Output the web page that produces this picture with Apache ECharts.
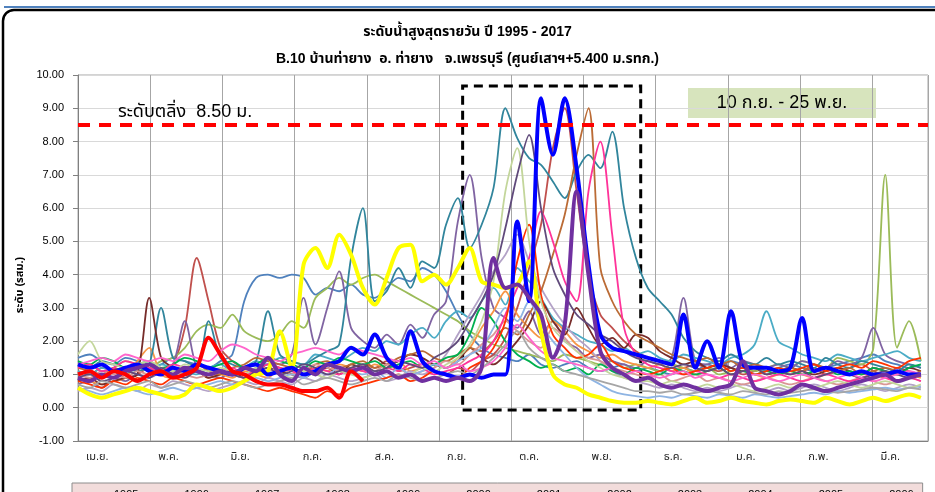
<!DOCTYPE html>
<html>
<head>
<meta charset="utf-8">
<title>ระดับน้ำสูงสุดรายวัน ปี 1995 - 2017</title>
<script src="https://cdn.jsdelivr.net/npm/echarts@6/dist/echarts.min.js"></script>
<style>
html, body { margin: 0; padding: 0; background: #fff; }
#chart { width: 935px; height: 492px; }
</style>
</head>
<body>
<div id="chart"></div>
<script>
// day number counted from 1 Apr, one reading every 5 days
const days = [0,5,10,15,20,25,30,35,40,45,50,55,60,65,70,75,80,85,90,95,100,105,110,115,
  120,125,130,135,140,145,150,155,160,165,170,175,180,185,190,195,200,205,210,215,220,225,230,235,
  240,245,250,255,260,265,270,275,280,285,290,295,300,305,310,315,320,325,330,335,340,345,350,355];
const monthLabels = ['เม.ย.','พ.ค.','มิ.ย.','ก.ค.','ส.ค.','ก.ย.','ต.ค.','พ.ย.','ธ.ค.','ม.ค.','ก.พ.','มี.ค.'];
const years = ['1995','1996','1997','1998','1999','2000','2001','2002','2003','2004','2005','2006',
  '2007','2008','2009','2010','2011','2012','2013','2014','2015','2016','2017'];
const bankLevel = 8.5;
const floodWindow = [162, 237];   // 10 ก.ย. - 25 พ.ย.

const l1995 = [1.5,1.6,1.4,1.3,1.5,1.4,1.2,1.3,1.5,1.4,1.3,1.2, 1.4,1.6,3.2,3.9,4.0,3.9,4.0,3.9,3.4,3.6,3.5,3.7,
  3.4,3.3,3.6,3.9,3.8,4.2,4.0,3.5,2.8,2.2,1.8,1.6, 1.5,1.4,1.6,1.3,1.2,1.3,1.4,1.2,1.1,1.2,1.3,1.1,
  1.2,1.1,1.0,1.2,1.1,1.3,1.2,1.4,1.3,1.2,1.1,1.2, 1.3,1.2,1.1,1.2,1.3,1.4,1.5,1.6,1.4,1.3,1.2,1.3];
const l1996 = [1.1,1.0,1.2,1.1,0.9,1.0,1.2,1.1,1.3,2.4,4.5,3.2, 1.8,1.4,1.2,1.1,1.3,1.2,1.0,1.1,1.2,1.3,1.1,1.2,
  1.3,1.2,1.4,1.1,1.2,1.3,1.1,1.0,1.2,1.1,1.4,1.6, 2.1,3.0,4.2,5.5,7.8,9.0,6.5,4.0,2.8,2.4,2.0,1.7,
  1.5,1.4,1.3,1.2,1.3,1.2,1.1,1.2,1.0,1.1,1.2,1.1, 1.0,1.1,1.2,1.0,1.1,1.2,1.3,1.1,1.0,1.2,1.1,1.0];
const l1997 = [1.2,1.3,1.1,1.2,1.4,1.3,1.2,1.4,1.5,1.8,2.3,2.5, 2.4,2.8,2.3,2.1,2.0,2.2,2.6,2.4,3.3,3.6,3.9,3.7,
  3.9,4.0,3.8,3.6,3.4,3.2,3.0,2.8,2.6,2.3,2.1,1.9, 1.8,1.7,1.6,1.5,1.4,1.6,1.5,1.4,1.3,1.4,1.2,1.3,
  1.2,1.1,1.3,1.2,1.1,1.2,1.0,1.1,1.2,1.1,1.2,1.3, 1.2,1.4,1.3,1.2,1.5,1.4,1.3,1.8,7.0,1.8,2.6,1.4];
const l1998 = [0.7,0.8,0.6,0.9,0.8,1.0,0.9,1.1,1.3,2.6,1.2,1.0, 0.9,1.1,1.0,1.2,1.4,1.3,1.6,3.3,1.9,3.0,4.1,2.4,
  2.0,1.8,2.2,1.9,2.5,2.1,2.8,3.2,5.6,7.0,4.5,3.0, 2.7,2.4,2.9,2.2,2.6,2.0,1.8,1.5,1.6,1.4,1.3,1.2,
  1.4,1.3,1.5,3.3,1.4,1.3,1.5,1.2,1.4,1.3,1.2,1.3, 1.2,1.4,1.3,1.2,1.4,1.3,1.5,2.4,1.6,1.4,1.3,1.2];
const l1999 = [1.1,1.0,1.2,1.1,1.0,1.2,1.1,1.3,1.2,1.1,1.0,1.2, 1.3,1.1,1.2,1.4,1.3,1.5,1.4,1.3,1.6,1.5,1.4,1.6,
  1.8,1.7,2.0,1.9,2.2,2.4,2.1,2.6,2.9,2.7,3.2,3.6, 3.1,4.2,3.8,3.3,2.7,2.4,2.2,2.0,1.9,1.7,1.8,1.6,
  1.7,1.5,1.4,1.6,1.5,1.4,1.3,1.5,1.6,1.9,2.9,2.0, 1.8,1.6,1.5,1.4,1.6,1.5,1.4,1.5,1.6,1.7,1.5,1.4];
const l2000 = [0.9,0.8,0.7,0.8,0.9,1.4,1.8,1.0,0.9,1.0,1.1,0.9, 1.0,0.9,1.1,1.0,0.9,1.2,1.1,1.0,1.2,1.1,1.3,1.2,
  1.1,1.3,1.2,1.4,1.1,1.2,1.3,1.2,1.5,1.8,2.4,2.9, 3.5,2.8,2.4,2.1,2.6,2.3,1.9,1.7,1.5,1.6,1.4,1.3,
  1.2,1.3,1.1,1.2,1.0,1.1,1.2,1.0,1.1,1.0,0.9,1.0, 1.1,1.0,0.9,1.0,1.1,1.0,0.9,1.0,0.9,1.1,1.0,0.9];
const l2001 = [1.3,1.2,1.4,1.3,1.2,1.1,1.3,3.0,1.5,1.4,1.2,2.6, 1.5,1.3,1.2,1.4,2.9,1.6,1.4,1.3,1.5,1.7,1.9,4.5,
  6.0,3.2,3.5,4.2,3.6,4.4,4.2,5.5,6.3,4.8,5.5,6.6, 9.0,8.1,7.5,7.3,6.8,6.3,7.1,7.6,7.2,8.3,6.0,4.5,
  3.6,3.2,2.8,2.1,1.7,1.5,1.4,1.6,1.4,1.3,1.5,1.3, 1.4,1.3,1.2,1.5,1.3,1.2,1.4,1.3,1.2,1.1,1.3,1.2];
const l2002 = [0.8,0.9,0.7,0.8,0.9,1.0,3.3,1.5,1.2,1.0,1.1,0.9, 1.0,1.1,0.9,1.0,1.2,1.1,1.0,0.9,1.1,1.2,1.0,1.3,
  1.2,1.5,1.3,1.4,1.6,1.5,1.3,1.2,1.4,1.8,1.5,1.3, 1.6,2.0,2.5,3.2,2.6,2.2,3.0,2.4,1.9,2.1,1.8,2.2,
  2.1,1.7,1.5,1.3,1.4,1.2,1.3,1.2,1.1,1.2,1.0,1.1, 1.2,1.1,1.0,1.1,1.2,1.1,1.0,1.2,1.1,1.0,1.2,1.1];
const l2003 = [0.5,0.6,0.5,0.7,0.6,0.5,0.7,0.6,0.8,0.7,0.6,0.5, 0.6,0.7,0.8,0.7,0.9,0.8,0.7,0.9,0.8,1.0,0.9,0.8,
  0.9,1.0,0.8,0.9,1.1,1.0,1.2,1.6,2.2,2.8,3.4,4.1, 4.6,5.2,4.4,3.6,3.0,2.5,2.1,1.8,1.4,1.1,0.9,0.8,
  0.7,0.6,0.7,0.6,0.5,0.6,0.5,0.6,0.7,0.6,0.5,0.6, 0.5,0.6,0.7,0.6,0.5,0.6,0.7,0.6,0.5,0.6,0.7,0.6];
const l2004 = [1.2,1.1,1.0,1.2,1.1,1.3,1.2,1.0,1.1,1.2,1.3,1.1, 1.0,1.2,1.3,1.5,1.4,1.3,1.2,1.1,1.3,1.4,1.2,1.3,
  1.4,1.2,1.3,1.5,1.6,1.7,1.5,1.4,1.6,1.8,1.7,2.0, 2.4,2.2,2.8,3.5,4.6,5.8,7.6,9.0,4.2,3.2,2.6,2.2,
  2.0,1.8,1.6,1.5,1.4,1.5,1.3,1.4,1.2,1.3,1.2,1.1, 1.2,1.1,1.3,1.2,1.1,1.2,1.0,1.1,1.2,1.1,1.0,1.1];
const l2005 = [1.0,0.9,1.1,1.0,0.9,1.1,1.0,1.2,1.1,1.0,0.9,1.0, 1.1,1.0,0.9,1.0,1.1,1.2,1.0,1.1,1.3,1.2,1.1,1.0,
  1.2,1.1,1.3,1.2,1.0,1.1,1.2,1.4,1.3,1.6,1.9,2.2, 2.6,2.3,2.0,1.8,2.4,2.1,1.7,1.5,1.4,1.2,1.1,1.0,
  0.9,1.0,0.8,0.9,1.0,0.8,0.9,0.8,0.7,0.8,0.9,0.8, 0.7,0.8,0.9,0.8,0.7,0.8,0.9,0.8,0.7,0.8,0.9,0.8];
const l2006 = [0.6,0.4,0.3,0.4,0.5,0.6,0.5,0.4,0.3,0.4,0.7,0.6, 0.5,0.6,0.8,1.0,1.1,2.3,1.2,4.3,4.8,4.2,5.2,4.6,
  3.6,3.1,3.9,4.8,4.9,3.8,4.0,3.7,4.2,4.8,3.8,3.7, 3.6,3.7,4.4,2.3,1.0,0.7,0.6,0.4,0.3,0.2,0.15,0.15,
  0.2,0.15,0.1,0.2,0.3,0.15,0.2,0.3,0.2,0.15,0.1,0.2, 0.25,0.2,0.15,0.3,0.2,0.1,0.2,0.3,0.2,0.3,0.4,0.3];
const l2007 = [1.4,1.3,1.5,1.4,1.2,1.3,1.4,1.2,1.3,1.5,1.4,1.2, 1.3,1.4,1.2,1.3,1.5,1.4,1.3,1.2,1.4,1.3,1.5,1.4,
  1.3,1.4,1.2,1.3,1.4,1.2,1.3,1.5,1.6,2.2,3.0,2.6, 2.0,1.6,1.4,1.2,1.3,1.1,1.2,1.0,1.3,1.1,1.0,1.2,
  1.1,1.0,1.2,1.1,1.0,1.1,1.2,1.0,1.1,1.0,1.1,1.0, 1.1,1.0,1.1,1.2,1.0,1.1,1.0,1.2,1.1,1.0,1.2,1.3];
const l2008 = [1.2,1.3,1.1,1.2,1.4,1.3,1.2,1.1,1.3,1.2,1.1,1.0, 1.1,1.2,1.0,1.1,1.3,1.2,1.1,1.0,1.2,1.1,1.0,1.2,
  1.1,1.0,1.2,1.1,1.3,1.2,1.0,1.1,1.2,1.4,1.6,2.0, 2.8,3.6,4.5,5.9,5.0,3.8,3.2,6.5,8.0,5.2,2.4,1.6,
  1.3,1.2,1.1,1.0,1.1,1.0,0.9,1.0,0.9,0.8,0.9,1.0, 0.9,0.8,0.9,1.0,0.9,0.8,0.9,1.0,0.9,0.8,0.9,0.8];
const l2009 = [0.6,0.5,0.4,0.5,0.6,0.5,0.4,0.5,0.6,0.5,0.6,0.7, 0.8,0.7,0.8,0.9,0.8,0.9,1.0,0.9,1.1,1.0,1.2,1.1,
  1.0,1.1,0.9,1.2,1.0,1.1,1.3,1.2,1.4,1.6,1.8,2.4, 3.0,2.6,3.2,2.5,2.0,1.6,1.2,0.9,0.7,0.5,0.4,0.35,
  0.3,0.35,0.3,0.4,0.35,0.3,0.4,0.35,0.3,0.4,0.35,0.3, 0.35,0.4,0.45,0.4,0.5,0.45,0.5,0.55,0.6,0.55,0.6,0.65];
const l2010 = [0.8,0.7,0.6,0.8,0.7,0.9,0.8,0.7,0.9,0.8,0.7,0.8, 0.9,0.8,0.7,0.6,0.5,0.6,0.5,0.4,0.3,0.5,0.4,0.6,
  0.7,0.8,0.9,1.0,0.8,0.9,1.1,1.0,0.9,1.2,1.4,1.8, 2.6,4.4,5.5,3.4,2.2,1.8,1.5,1.6,1.9,1.4,1.2,1.1,
  1.0,1.1,1.2,1.0,1.1,1.2,1.3,1.1,1.2,1.0,1.1,1.2, 1.1,1.2,1.3,1.1,1.2,1.3,1.2,1.4,1.3,1.2,1.4,1.5];
const l2011 = [1.3,1.2,1.3,1.1,1.2,1.3,1.1,1.0,1.2,1.1,1.3,1.2, 1.1,1.0,1.2,1.3,1.0,1.1,1.2,1.0,1.1,1.3,1.4,1.8,
  1.6,2.2,1.5,1.2,2.3,1.4,1.1,1.0,0.9,1.0,0.9,1.0, 1.0,5.6,3.2,9.3,7.6,9.3,7.2,4.3,2.2,1.8,1.7,1.6,
  1.5,1.4,1.3,2.8,1.2,2.0,1.2,2.9,1.3,1.2,1.2,1.1, 1.2,2.7,1.1,1.2,1.1,1.0,1.1,1.0,1.0,1.1,1.0,1.0];
const l2012 = [1.6,2.0,1.4,1.3,1.2,1.3,1.4,1.2,1.1,1.3,1.2,1.1, 1.2,1.1,1.0,1.2,1.1,1.0,0.9,1.1,1.0,0.9,1.1,1.0,
  0.9,1.0,1.1,0.9,1.0,1.2,1.1,1.3,1.5,1.9,2.6,3.8, 6.5,7.8,5.0,3.2,2.4,2.0,1.7,1.4,1.2,1.0,0.9,0.8,
  0.8,0.7,0.8,0.7,0.6,0.7,0.6,0.7,0.6,0.5,0.6,0.7, 0.6,0.7,0.6,0.7,0.8,0.7,0.6,0.7,0.8,0.7,0.6,0.7];
const l2013 = [0.9,1.0,0.8,0.9,1.1,1.0,0.9,1.2,1.0,0.9,1.1,1.0, 1.1,1.0,0.9,1.1,1.2,1.0,1.1,1.3,1.2,1.0,1.1,1.2,
  1.3,1.1,1.2,1.4,1.3,1.2,1.5,1.7,2.0,2.6,3.2,4.0, 5.4,7.0,8.2,6.0,4.2,3.4,2.8,2.5,2.2,2.0,1.7,1.5,
  1.4,1.3,1.2,1.3,1.2,1.1,1.2,1.0,1.1,1.2,1.0,1.1, 1.0,1.1,0.9,1.0,1.1,1.0,0.9,1.0,1.1,1.0,0.9,1.0];
const l2014 = [1.3,1.4,1.5,1.4,1.6,1.5,1.4,1.5,1.4,1.6,1.5,1.4, 1.7,1.9,1.8,1.6,1.5,1.4,1.6,1.7,1.8,1.7,1.6,1.8,
  1.7,1.6,1.5,1.4,1.5,1.3,1.4,1.2,1.3,1.1,1.2,1.4, 1.8,2.5,2.1,1.7,1.5,1.4,1.3,1.2,1.1,1.2,1.0,1.1,
  1.0,0.9,1.0,1.1,0.9,1.0,0.9,0.8,0.9,1.0,0.9,0.8, 0.9,1.0,0.9,0.8,0.9,1.0,0.9,0.8,0.9,1.0,1.1,1.0];
const l2015 = [0.7,0.6,0.8,0.7,0.6,0.7,0.8,0.6,0.7,0.8,0.7,0.6, 0.7,0.8,0.7,0.6,0.7,0.8,0.9,0.7,0.8,0.9,0.8,0.7,
  0.8,0.9,0.8,1.0,0.9,0.8,0.9,1.0,1.1,1.0,1.2,1.5, 1.9,2.3,1.8,1.5,1.3,1.1,1.0,0.9,0.8,0.7,0.6,0.5,
  0.5,0.45,0.5,0.4,0.45,0.5,0.45,0.4,0.5,0.45,0.4,0.5, 0.45,0.5,0.55,0.5,0.45,0.5,0.55,0.6,0.55,0.5,0.6,0.55];
const l2016 = [0.9,0.8,1.0,0.9,1.1,1.2,1.3,1.1,1.0,1.2,1.1,1.0, 1.1,1.0,1.2,1.1,1.5,1.0,0.8,1.2,1.0,1.3,1.2,1.1,
  1.2,1.0,1.1,0.9,1.0,0.8,0.9,0.8,0.9,0.8,1.2,4.5, 3.6,3.7,3.3,2.8,1.5,2.5,6.5,4.0,1.7,1.2,1.0,0.8,
  0.9,0.7,0.6,0.7,0.6,0.5,0.6,0.7,1.4,0.6,0.5,0.4, 0.5,0.7,0.6,0.5,0.6,0.7,0.8,0.9,1.0,0.8,0.9,1.0];
const l2017 = [1.0,1.1,0.9,1.1,1.0,0.8,1.0,1.1,0.9,1.0,1.2,2.1, 1.6,1.1,1.0,0.8,0.7,0.7,0.6,0.5,0.5,0.6,0.3,1.1,0.8];

const levelSeries = [l1995,l1996,l1997,l1998,l1999,l2000,l2001,l2002,l2003,l2004,l2005,l2006,
  l2007,l2008,l2009,l2010,l2011,l2012,l2013,l2014,l2015,l2016,l2017];

const lineColors = ['#4f81bd','#c0504d','#9bbb59','#8064a2','#4bacc6','#f79646','#31859c','#772c2a',
  '#b3a2c7','#bb6b35','#d99694','#ffff00','#00b050','#ff3399','#8eb4e3','#ff3300','#0000ff',
  '#c3d69b','#604a7b','#ff66cc','#a6a6a6','#7030a0','#ff0000'];
const thickYears = ['2006','2011','2016','2017'];

const thaiFont = '"Liberation Sans", "Noto Sans Thai", "Noto Sans", sans-serif';
const monthStep = 365 / 12;

const chart = echarts.init(document.getElementById('chart'));

const series = years.map((y, k) => {
  const thick = thickYears.includes(y);
  return {
    name: y,
    type: 'line',
    data: levelSeries[k].map((v, i) => [days[i], v]),
    symbol: 'none',
    smooth: 0.3,
    z: thick ? 4 : 2,
    lineStyle: { color: lineColors[k], width: thick ? 4 : 1.8 },
    itemStyle: { color: lineColors[k] }
  };
});

// bank level and the 10 Sep - 25 Nov window
series.push({
  type: 'line',
  data: [],
  silent: true,
  z: 6,
  markLine: {
    symbol: 'none',
    silent: true,
    label: { show: false },
    lineStyle: { color: '#ff0000', width: 4, type: [12, 9] },
    data: [{ yAxis: bankLevel }]
  },
  markArea: {
    silent: true,
    itemStyle: { color: 'rgba(0,0,0,0)', borderColor: '#000', borderWidth: 3, borderType: [9, 6] },
    data: [[{ xAxis: floodWindow[0], yAxis: -0.07 }, { xAxis: floodWindow[1], yAxis: 9.67 }]]
  }
});

chart.setOption({
  animation: false,
  title: [
    { text: 'ระดับน้ำสูงสุดรายวัน ปี 1995 - 2017', left: 'center', top: 20,
      textStyle: { fontSize: 14, fontWeight: 'bold', color: '#000', fontFamily: thaiFont } },
    { text: 'B.10 บ้านท่ายาง  อ. ท่ายาง   จ.เพชรบุรี (ศูนย์เสาฯ+5.400 ม.รทก.)', left: 'center', top: 47,
      textStyle: { fontSize: 14, fontWeight: 'bold', color: '#000', fontFamily: thaiFont } }
  ],
  legend: {
    data: years,
    left: 72, top: 483, width: 860,
    icon: 'rect', itemWidth: 28, itemHeight: 3, itemGap: 13,
    padding: [6, 9, 3, 9],
    backgroundColor: '#f2dcdb', borderColor: '#8c8c8c', borderWidth: 1,
    textStyle: { fontSize: 11, color: '#000', fontFamily: thaiFont }
  },
  grid: { left: 78, right: 7, top: 75, bottom: 51, show: true, borderColor: '#a6a6a6', borderWidth: 1,
    outerBoundsMode: 'none' },
  xAxis: {
    type: 'value', min: 0, max: 358, interval: monthStep,
    axisLine: { show: true, onZero: false, lineStyle: { color: '#808080' } },
    axisTick: { show: false },
    splitLine: { show: true, lineStyle: { color: '#a6a6a6' } },
    axisLabel: {
      margin: 10, fontSize: 11, color: '#222', fontFamily: thaiFont,
      align: 'left', padding: [0, 0, 0, 8],
      formatter: function (v) {
        const k = v / monthStep, r = Math.round(k);
        return Math.abs(k - r) < 0.01 && r < 12 ? monthLabels[r] : '';
      }
    }
  },
  yAxis: {
    type: 'value', min: -1, max: 10, interval: 1,
    axisLine: { show: true, lineStyle: { color: '#808080' } },
    axisTick: { show: true, length: 5, lineStyle: { color: '#808080' } },
    splitLine: { lineStyle: { color: '#d9d9d9' } },
    axisLabel: { margin: 14, fontSize: 11, color: '#000', fontFamily: 'Liberation Sans, sans-serif',
      formatter: v => v.toFixed(2) }
  },
  graphic: [
    { type: 'line', shape: { x1: 4, y1: 7, x2: 935, y2: 7 }, style: { stroke: '#4f81bd', lineWidth: 2 } },
    { type: 'rect', shape: { x: 3, y: 10, width: 1000, height: 600, r: 11 },
      style: { fill: 'none', stroke: '#000', lineWidth: 2.5 } },
    { type: 'text', x: 20, y: 285, rotation: Math.PI / 2,
      style: { text: 'ระดับ (รสม.)', align: 'center', verticalAlign: 'middle',
        font: 'bold 11px ' + thaiFont, fill: '#000' } },
    { type: 'text', left: 118, top: 103, z: 10,
      style: { text: 'ระดับตลิ่ง  8.50 ม.', font: '18px ' + thaiFont, fill: '#000' } },
    { type: 'group', left: 688, top: 88, z: 10, children: [
      { type: 'rect', shape: { x: 0, y: 0, width: 188, height: 30 }, style: { fill: '#d7e4bd' } },
      { type: 'text', x: 94, y: 15,
        style: { text: '10 ก.ย. - 25 พ.ย.', align: 'center', verticalAlign: 'middle',
          font: '18px ' + thaiFont, fill: '#000' } }
    ] }
  ],
  series: series
});
</script>
</body>
</html>
